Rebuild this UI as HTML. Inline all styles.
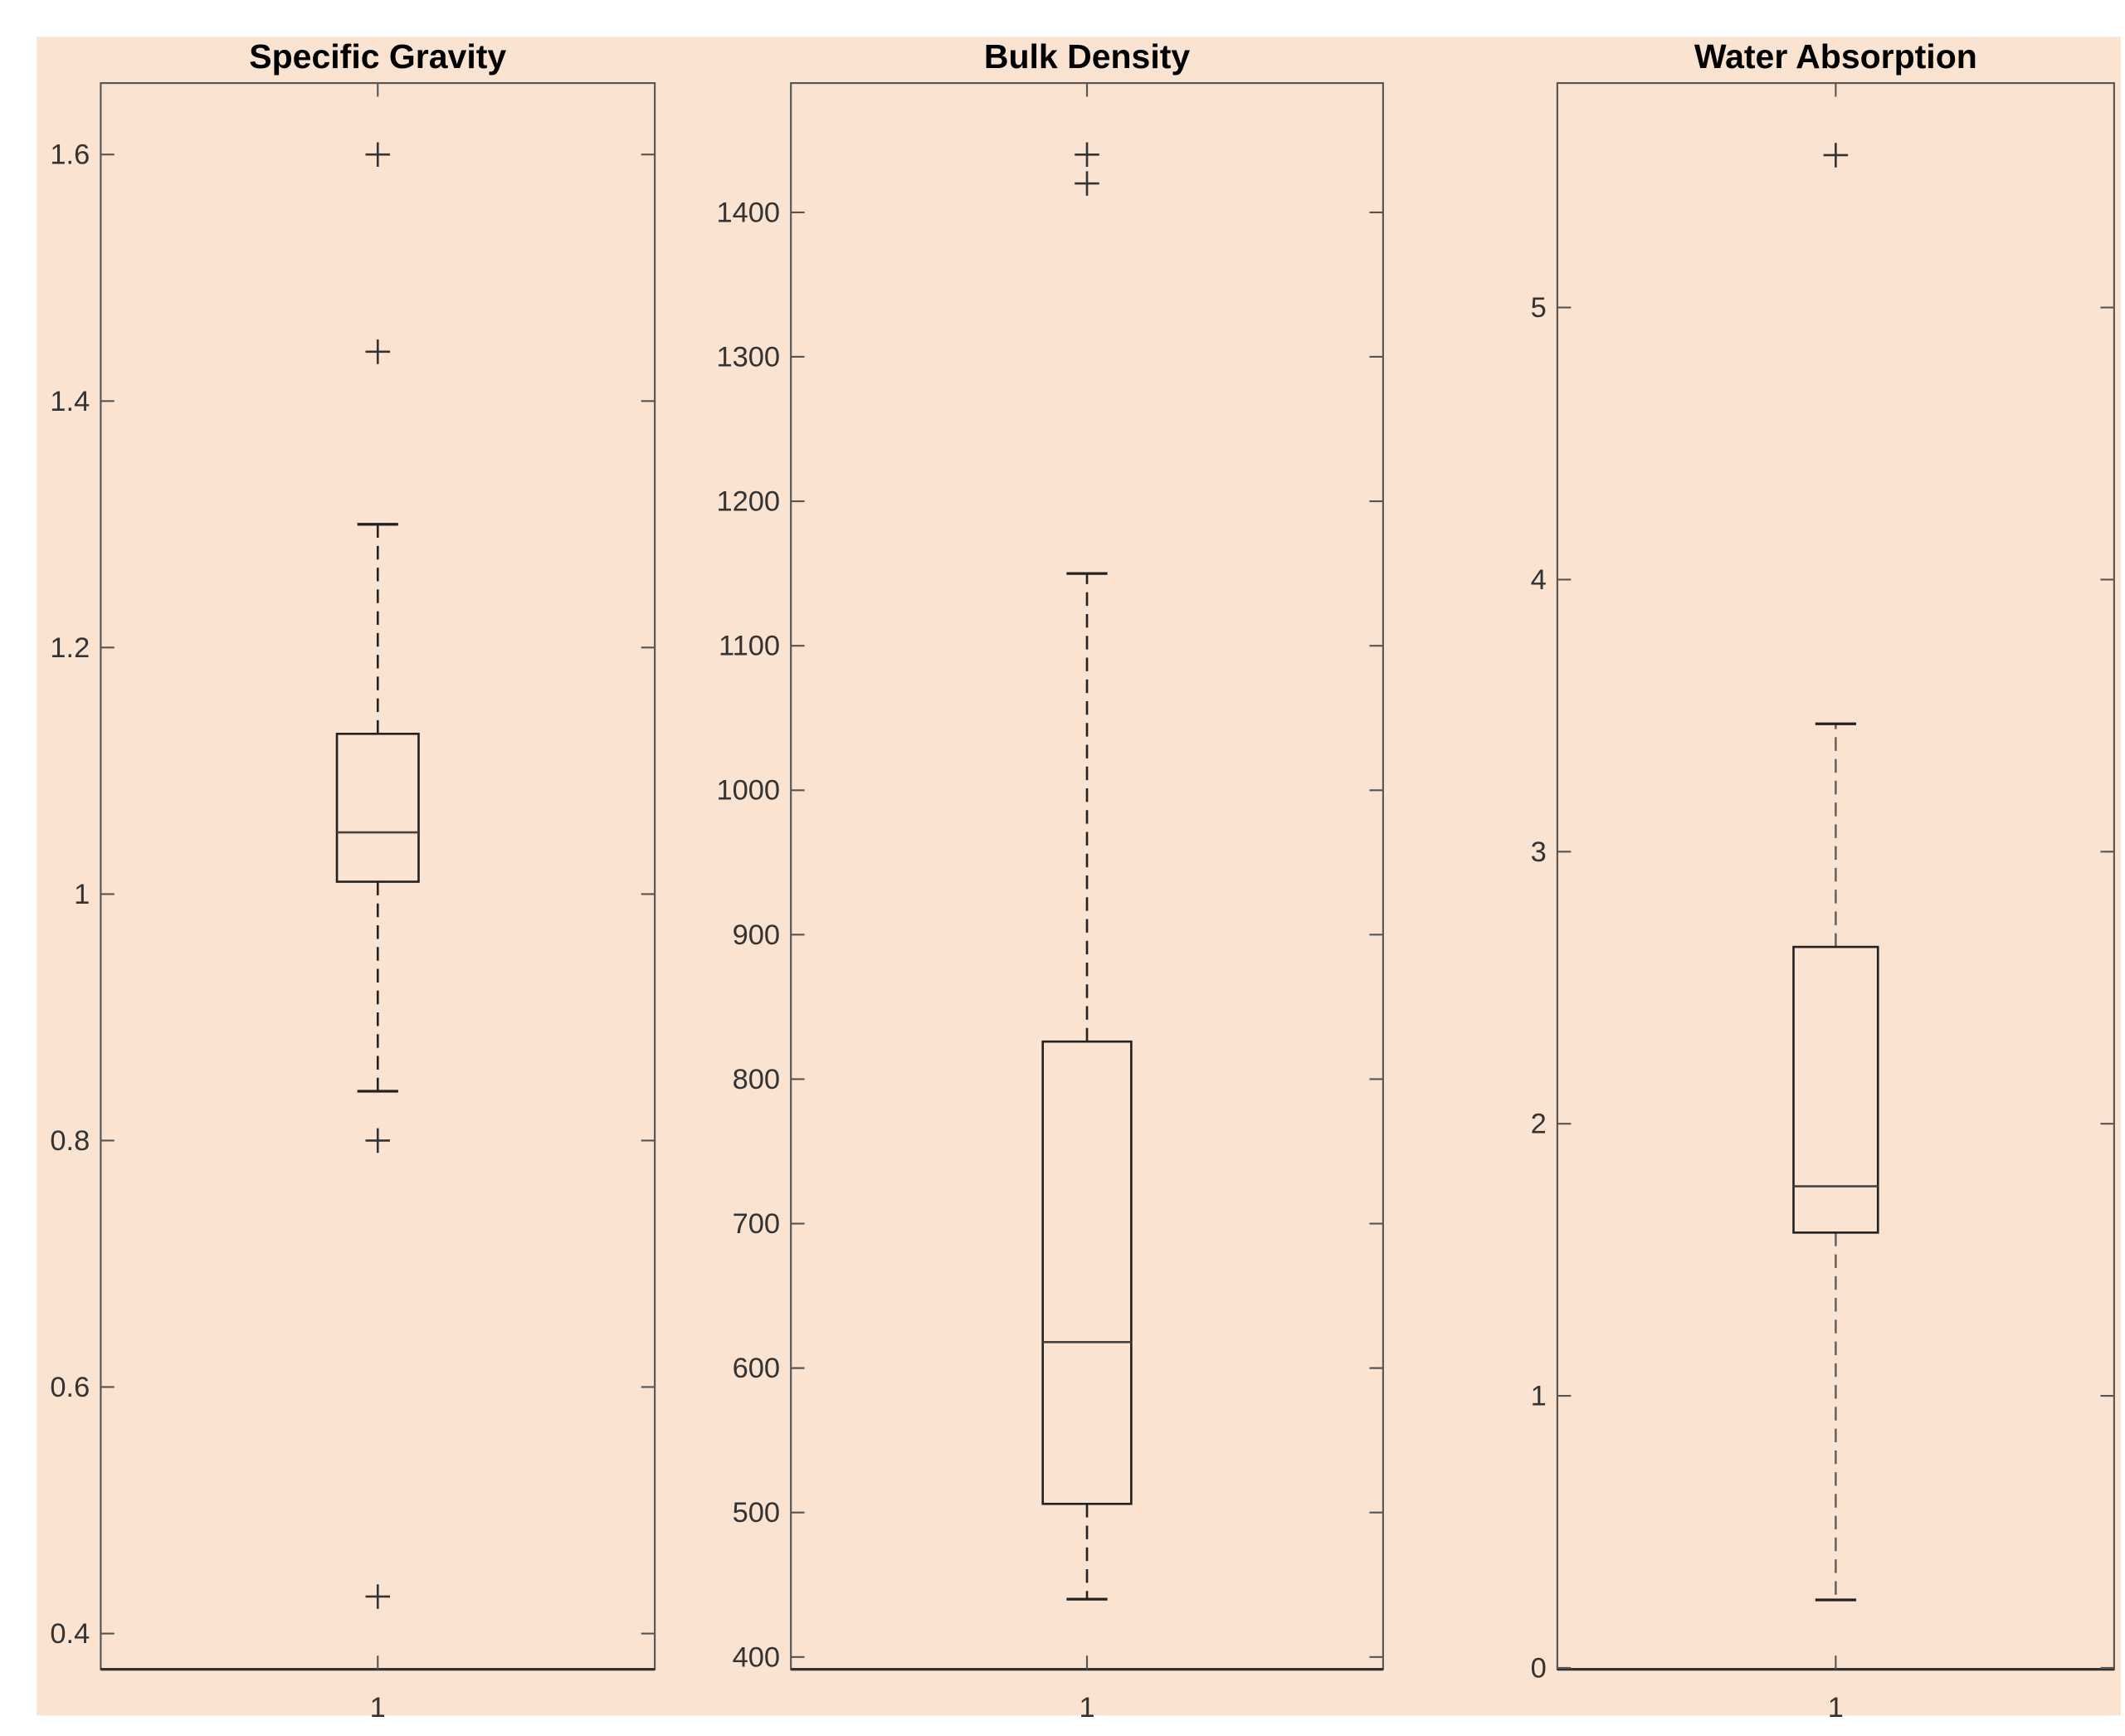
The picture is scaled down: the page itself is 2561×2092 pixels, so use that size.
<!DOCTYPE html>
<html><head><meta charset="utf-8"><style>
html,body{margin:0;padding:0;background:#fff;}
svg{display:block;}
text{font-family:"Liberation Sans Narrow","Liberation Sans",sans-serif;}
</style></head><body>
<svg id="chart" width="2561" height="2092" viewBox="0 0 1561 1275" preserveAspectRatio="none" xmlns="http://www.w3.org/2000/svg">
<rect x="27" y="27" width="1531" height="1233" fill="#fae3d1"/>
</svg>
<script>
const titles = ["Specific Gravity", "Bulk Density", "Water Absorption"];
const q1s = [1.01, 506, 1.60];
const medians = [1.05, 618, 1.77];
const q3s = [1.13, 826, 2.65];
const whiskLo = [0.84, 440, 0.25];
const whiskHi = [1.30, 1150, 3.47];
const outliers = [[1.6, 1.44, 0.8, 0.43], [1440, 1420], [5.56]];
const ticks = [[0.4,0.6,0.8,1,1.2,1.4,1.6],[400,500,600,700,800,900,1000,1100,1200,1300,1400],[0,1,2,3,4,5]];
const tickLabels = [["0.4","0.6","0.8","1","1.2","1.4","1.6"],["400","500","600","700","800","900","1000","1100","1200","1300","1400"],["0","1","2","3","4","5"]];
const yLims = [[0.371,1.658],[391.5,1489.5],[-0.005,5.825]];

const panels = [{x0:74,x1:481,bw:60,wc:"#222"},{x0:581,x1:1016,bw:65,wc:"#222"},{x0:1144,x1:1553,bw:62,wc:"#666"}];
const Y0=61, Y1=1226;
const svg=document.getElementById('chart');
const NS="http://www.w3.org/2000/svg";
function mk(tag,attrs,parent){const e=document.createElementNS(NS,tag);for(const k in attrs)e.setAttribute(k,attrs[k]);(parent||svg).appendChild(e);return e;}

titles.forEach((t,i)=>{
  const p=panels[i];
  const g=mk('g',{});
  
  
  const y=v=>Y1-(v-yLims[i][0])/(yLims[i][1]-yLims[i][0])*(Y1-Y0);
  const cx=(p.x0+p.x1)/2;
  const frame=mk('rect',{x:p.x0,y:Y0,width:p.x1-p.x0,height:Y1-Y0,fill:"none",stroke:"#555","stroke-width":1.3},g);
  
  
  mk('line',{x1:p.x0,x2:p.x1,y1:Y1,y2:Y1,stroke:"#333","stroke-width":2},g);
  const tt=mk('text',{x:cx,y:50,"text-anchor":"middle","font-size":25,"font-weight":"bold",fill:"#000",style:"font-family:'Liberation Sans',sans-serif"},g);
  tt.textContent=t;
  
  
  ticks[i].forEach((v,j)=>{
    const yy=y(v);
    mk('line',{x1:p.x0,x2:p.x0+10,y1:yy,y2:yy,stroke:"#555","stroke-width":1.3},g);
    mk('line',{x1:p.x1-10,x2:p.x1,y1:yy,y2:yy,stroke:"#555","stroke-width":1.3},g);
    const tl=mk('text',{x:p.x0-8,y:yy+7,"text-anchor":"end","font-size":21,fill:"#333"},g);
    tl.textContent=tickLabels[i][j];
    
    
  });
  mk('line',{x1:cx,x2:cx,y1:Y0,y2:Y0+10,stroke:"#555","stroke-width":1.3},g);
  mk('line',{x1:cx,x2:cx,y1:Y1-10,y2:Y1,stroke:"#555","stroke-width":1.3},g);
  const xl=mk('text',{x:cx,y:1261,"text-anchor":"middle","font-size":21,fill:"#333"},g);
  xl.textContent="1";
  
  
  const wu=mk('line',{x1:cx,x2:cx,y1:y(q3s[i]),y2:y(whiskHi[i]),stroke:p.wc,"stroke-width":1.6,"stroke-dasharray":"10 6"},g);
  
  
  const wl=mk('line',{x1:cx,x2:cx,y1:y(q1s[i]),y2:y(whiskLo[i]),stroke:p.wc,"stroke-width":1.6,"stroke-dasharray":"10 6"},g);
  
  
  mk('line',{x1:cx-15,x2:cx+15,y1:y(whiskHi[i]),y2:y(whiskHi[i]),stroke:"#222","stroke-width":2},g);
  mk('line',{x1:cx-15,x2:cx+15,y1:y(whiskLo[i]),y2:y(whiskLo[i]),stroke:"#222","stroke-width":2},g);
  const box=mk('rect',{x:cx-p.bw/2,y:y(q3s[i]),width:p.bw,height:y(q1s[i])-y(q3s[i]),fill:"none",stroke:"#222","stroke-width":1.6},g);
  
  
  const md=mk('line',{x1:cx-p.bw/2,x2:cx+p.bw/2,y1:y(medians[i]),y2:y(medians[i]),stroke:"#444","stroke-width":1.6},g);
  
  
  outliers[i].forEach(v=>{
    const yy=y(v);
    const o=mk('path',{d:`M${cx-9},${yy}H${cx+9}M${cx},${yy-9}V${yy+9}`,stroke:"#333","stroke-width":1.6,fill:"none"},g);
    
    
  });
});
</script>
</body></html>
